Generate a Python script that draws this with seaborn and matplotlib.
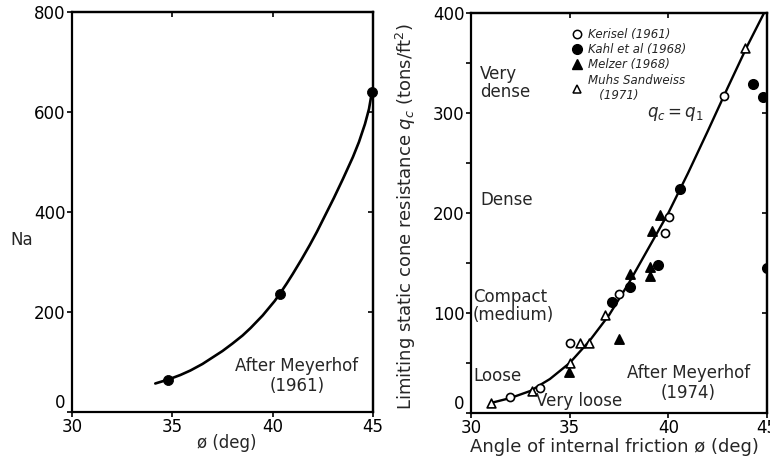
import matplotlib
matplotlib.use("Agg")
import matplotlib.pyplot as plt
from matplotlib.lines import Line2D
import seaborn as sns
import pandas as pd

# ---------------- data ----------------
# Left panel: N_q vs phi (Meyerhof 1961)
left_pts_phi = [34.8, 40.35, 44.93]
left_pts_nq = [65, 237, 641]
left_curve_phi = [34.15, 34.8, 35.4, 35.9, 36.5, 37.0, 37.5, 38.0, 38.5, 38.9, 39.5,
                  40.1, 40.35, 40.7, 41.0, 41.45, 41.85, 42.2, 42.5, 43.05, 43.5,
                  44.0, 44.3, 44.6, 44.8, 44.95]
left_curve_nq = [57, 65, 74, 83, 96, 109, 122, 137, 153, 168, 193,
                 222, 236, 257, 276, 306, 334, 360, 384, 428, 466,
                 510, 540, 576, 606, 641]

# Right panel: limiting static cone resistance vs phi
kerisel_phi = [32.0, 33.5, 35.0, 37.5, 39.85, 40.05, 42.8]
kerisel_q = [16, 25, 70, 119, 180, 196, 317]
kahl_phi = [37.15, 38.05, 39.5, 40.6, 44.3, 44.8, 45.0]
kahl_q = [111, 126, 148, 224, 329, 316, 145]
melzer_phi = [34.98, 37.5, 38.07, 39.07, 39.07, 39.15, 39.6]
melzer_q = [41, 74, 139, 146, 137, 182, 198]
muhs_phi = [31.0, 33.07, 35.0, 35.5, 36.0, 36.8, 43.9]
muhs_q = [10, 22, 50, 70, 70, 98, 365]
right_curve_phi = [31, 32, 33, 34, 35, 36, 37, 38, 39, 40, 41, 42, 43, 44, 44.85]
right_curve_q = [10, 15, 22, 34, 50, 72, 98, 130, 165, 200, 240, 282, 325, 367, 400]

series_labels = ["Kerisel (1961)", "Kahl et al (1968)", "Melzer (1968)",
                 "Muhs Sandweiss\n   (1971)"]

left_xticks = [30, 35, 40, 45]
left_yticks = [0, 200, 400, 600, 800]
right_xticks = [30, 35, 40, 45]
right_yticks = [0, 100, 200, 300, 400]

# ---------------- style ----------------
sns.set_style("ticks")
plt.rcParams["font.family"] = ["DejaVu Sans"]
plt.rcParams["axes.edgecolor"] = "black"
plt.rcParams["axes.linewidth"] = 1.6
plt.rcParams["xtick.color"] = "black"
plt.rcParams["ytick.color"] = "black"

fig = plt.figure(figsize=(7.70, 4.66), dpi=100)
axL = fig.add_axes([72 / 770, 1 - 412 / 466, (373 - 72) / 770, (412 - 12) / 466])
axR = fig.add_axes([471 / 770, 1 - 413 / 466, (767 - 471) / 770, (413 - 13) / 466])

TL = dict(length=3.5, width=1.2)

# ---------------- left panel ----------------
dfLc = pd.DataFrame({"phi": left_curve_phi, "nq": left_curve_nq})
dfLp = pd.DataFrame({"phi": left_pts_phi, "nq": left_pts_nq})
sns.lineplot(data=dfLc, x="phi", y="nq", ax=axL, color="black", lw=1.9, sort=False)
sns.scatterplot(data=dfLp, x="phi", y="nq", ax=axL, color="black", s=52,
                edgecolor="black", zorder=5, clip_on=False)
axL.set_xlim(30, 45)
axL.set_ylim(0, 800)
axL.set_xticks(left_xticks)
axL.set_yticks(left_yticks)
axL.tick_params(labelsize=12, direction="out", pad=1, **TL)
axL.set_xlabel("")
axL.set_ylabel("")
fig.text(227 / 770, 1 - 443 / 466, "ø (deg)", fontsize=12, ha="center", va="center")
fig.text(22 / 770, 1 - 240 / 466, "Na", fontsize=12, ha="center", va="center")
axL.text(41.2, 72, "After Meyerhof\n(1961)", fontsize=12, ha="center", va="center",
         linespacing=1.1)
sec = axL.secondary_yaxis("right")
sec.set_yticks(left_yticks)
sec.tick_params(direction="in", labelright=False, **TL)
secx = axL.secondary_xaxis("top")
secx.set_xticks(left_xticks)
secx.tick_params(direction="in", labeltop=False, **TL)

# ---------------- right panel ----------------
dfRc = pd.DataFrame({"phi": right_curve_phi, "q": right_curve_q})
sns.lineplot(data=dfRc, x="phi", y="q", ax=axR, color="black", lw=1.7, sort=False)

specs = [
    (kerisel_phi, kerisel_q, "o", "white", 34),
    (kahl_phi, kahl_q, "o", "black", 46),
    (melzer_phi, melzer_q, "^", "black", 44),
    (muhs_phi, muhs_q, "^", "white", 40),
]
for (xs, ys, mk, fc, sz) in specs:
    d = pd.DataFrame({"phi": xs, "q": ys})
    sns.scatterplot(data=d, x="phi", y="q", ax=axR, marker=mk, s=sz,
                    facecolor=fc, edgecolor="black", linewidth=1.2, zorder=5)

axR.set_xlim(30, 45)
axR.set_ylim(0, 400)
axR.set_xticks(right_xticks)
axR.set_yticks(right_yticks)
axR.set_yticks([50, 150, 250, 350], minor=True)
axR.tick_params(labelsize=12, direction="out", pad=1, **TL)
axR.tick_params(which="minor", direction="out", **TL)
axR.set_xlabel("")
axR.set_ylabel("")
secR = axR.secondary_yaxis("right")
secR.set_yticks(right_yticks)
secR.tick_params(direction="in", labelright=False, **TL)
secRx = axR.secondary_xaxis("top")
secRx.set_xticks(right_xticks)
secRx.tick_params(direction="in", labeltop=False, **TL)

# the "0" labels sit slightly above the corner, as in the scan
for ax in (axL, axR):
    ax.yaxis.get_major_ticks()[0].label1.set_verticalalignment("bottom")

fig.text(470 / 770, 1 - 447 / 466, "Angle of internal friction ø (deg)", fontsize=13,
         ha="left", va="center")
fig.text(406 / 770, 1 - 217 / 466, "Limiting static cone resistance $q_c$ (tons/ft$^2$)",
         fontsize=13, ha="center", va="center", rotation=90)

axR.text(30.45, 330, "Very\ndense", fontsize=12, ha="left", va="center", linespacing=1.05)
axR.text(30.45, 213, "Dense", fontsize=12, ha="left", va="center")
axR.text(30.1, 107, "Compact\n(medium)", fontsize=12, ha="left", va="center", linespacing=1.05)
axR.text(30.1, 37, "Loose", fontsize=12, ha="left", va="center")
axR.text(33.3, 12, "Very loose", fontsize=12, ha="left", va="center")
axR.text(38.9, 299, "$q_c = q_1$", fontsize=12, ha="left", va="center")
axR.text(41.0, 30, "After Meyerhof\n(1974)", fontsize=12, ha="center", va="center",
         linespacing=1.1)

handles = [
    Line2D([], [], ls="none", marker="o", mfc="white", mec="black", ms=6, mew=1.1),
    Line2D([], [], ls="none", marker="o", mfc="black", mec="black", ms=7),
    Line2D([], [], ls="none", marker="^", mfc="black", mec="black", ms=7),
    Line2D([], [], ls="none", marker="^", mfc="white", mec="black", ms=6, mew=1.1),
]
leg = axR.legend(handles, series_labels, loc="upper left", bbox_to_anchor=(0.325, 0.975),
                 frameon=False, prop={"style": "italic", "size": 8.5}, handlelength=0.8,
                 handletextpad=0.6, labelspacing=0.2, borderaxespad=0)

fig.savefig("out.png", dpi=100)
